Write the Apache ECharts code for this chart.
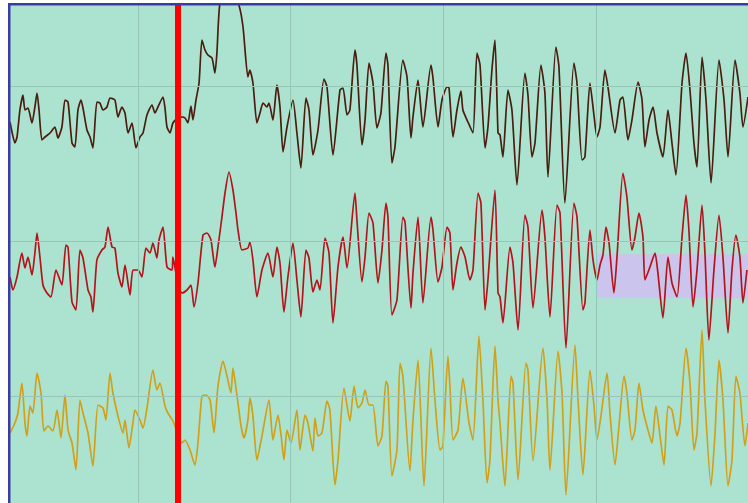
<!DOCTYPE html>
<html>
<head>
<meta charset="utf-8">
<script src="https://cdn.jsdelivr.net/npm/echarts@6/dist/echarts.min.js"></script>
<style>html,body{margin:0;padding:0;background:#fff;}#c{width:748px;height:503px;}</style>
</head>
<body>
<div id="c"></div>
<script>
// Samples: [time in ms, amplitude in µV]
const ch1Samples = [[162,-36],[175,-46],[194,-57],[208,-51],[227,-24],[247,-9],[260,-24],[280,-22],[306,-37],[325,-21],[339,-7],[352,-24],[371,-54],[391,-51],[424,-47],[456,-41],[476,-52],[502,-41],[522,-14],[542,-16],[568,-57],[587,-61],[607,-24],[627,-14],[640,-22],[666,-44],[686,-51],[705,-62],[731,-16],[751,-17],[771,-24],[797,-21],[817,-12],[849,-14],[869,-31],[895,-21],[915,-27],[935,-47],[961,-37],[987,-62],[1013,-51],[1033,-47],[1059,-29],[1092,-19],[1111,-27],[1131,-21],[1164,-11],[1177,-22],[1190,-41],[1210,-47],[1229,-37],[1262,-32],[1288,-31],[1308,-32],[1327,-37],[1347,-20],[1360,-34],[1380,-14],[1400,3],[1419,46],[1439,36],[1458,31],[1485,28],[1504,13],[1517,33],[1537,83],[1596,106],[1661,81],[1688,59],[1720,9],[1733,16],[1753,3],[1779,-37],[1799,-27],[1819,-17],[1845,-21],[1858,-17],[1884,-34],[1910,1],[1930,-21],[1950,-66],[1976,-41],[2015,-14],[2041,-47],[2067,-82],[2100,-12],[2120,-24],[2146,-69],[2179,-44],[2218,7],[2238,-1],[2277,-69],[2323,-4],[2343,-2],[2369,-29],[2388,-24],[2421,36],[2434,21],[2467,-59],[2487,-34],[2513,23],[2539,3],[2565,-42],[2591,-27],[2624,33],[2637,21],[2663,-77],[2683,-61],[2735,26],[2762,9],[2788,-52],[2801,-31],[2834,6],[2866,-41],[2919,21],[2932,8],[2965,-41],[2991,-14],[3024,-1],[3037,-2],[3063,-51],[3089,-24],[3115,-5],[3128,-24],[3161,-36],[3194,-47],[3220,33],[3240,21],[3273,-62],[3292,-41],[3318,16],[3338,46],[3358,-47],[3371,-49],[3390,-71],[3423,-4],[3449,-24],[3482,-99],[3534,13],[3554,-9],[3580,-71],[3600,-57],[3639,21],[3665,-7],[3685,-91],[3737,39],[3757,19],[3796,-117],[3855,23],[3875,3],[3908,-74],[3927,-71],[3960,3],[3986,-29],[4006,-51],[4026,-41],[4058,16],[4078,-1],[4124,-47],[4157,-14],[4176,-11],[4209,-54],[4235,-34],[4275,4],[4301,-14],[4320,-61],[4347,-34],[4373,-21],[4399,-47],[4438,-71],[4471,-24],[4497,-57],[4523,-89],[4563,3],[4589,33],[4615,-4],[4641,-57],[4661,-81],[4694,29],[4720,-14],[4753,-97],[4805,26],[4838,-14],[4864,-71],[4910,26],[4942,-7],[4962,-41],[4995,-11]];

const ch2Samples = [[162,-36],[181,-49],[208,-36],[240,-12],[260,-27],[280,-16],[306,-34],[325,-12],[339,8],[358,-16],[378,-44],[404,-52],[430,-56],[463,-29],[502,-44],[528,-4],[542,-6],[568,-61],[594,-69],[620,-9],[640,-17],[673,-49],[692,-56],[705,-71],[731,-19],[764,-9],[784,-6],[804,14],[830,-6],[849,-7],[869,-32],[895,-46],[915,-24],[948,-54],[967,-29],[1000,-29],[1026,-36],[1052,-7],[1079,-12],[1098,-2],[1124,-17],[1138,1],[1164,14],[1190,-26],[1223,-29],[1229,-16],[1262,-44],[1288,-52],[1321,-49],[1347,-44],[1367,-66],[1393,-42],[1426,6],[1452,8],[1478,1],[1504,-26],[1524,-6],[1550,24],[1570,48],[1596,69],[1622,51],[1642,28],[1655,11],[1681,-9],[1720,-7],[1733,-1],[1753,-19],[1779,-56],[1812,-29],[1851,-12],[1884,-36],[1910,-6],[1930,-22],[1956,-71],[1982,-36],[2015,-2],[2041,-39],[2067,-76],[2100,-9],[2120,-17],[2146,-51],[2172,-39],[2192,-49],[2225,3],[2251,-12],[2277,-82],[2310,-26],[2343,4],[2369,-27],[2421,48],[2434,21],[2467,-41],[2487,-16],[2513,28],[2539,18],[2572,-42],[2598,-9],[2624,38],[2637,24],[2663,-74],[2696,-59],[2735,24],[2749,19],[2788,-67],[2801,-32],[2834,24],[2866,-62],[2919,24],[2932,11],[2965,-41],[2991,-26],[3024,14],[3043,8],[3063,-49],[3089,-22],[3115,-6],[3142,-16],[3174,-39],[3194,-29],[3227,48],[3246,38],[3273,-69],[3292,-39],[3338,51],[3358,-52],[3371,-56],[3390,-82],[3436,-6],[3456,-22],[3489,-89],[3534,26],[3554,14],[3587,-67],[3646,31],[3665,4],[3698,-76],[3744,36],[3764,28],[3803,-107],[3855,38],[3875,24],[3914,-69],[3927,-62],[3960,11],[3980,-19],[4006,-39],[4026,-24],[4045,-14],[4065,14],[4085,-2],[4117,-52],[4137,-16],[4176,68],[4202,44],[4235,-9],[4255,4],[4281,28],[4307,4],[4320,-39],[4353,-26],[4386,-12],[4405,-32],[4438,-77],[4471,-16],[4497,-42],[4530,-56],[4563,4],[4589,46],[4608,11],[4635,-66],[4661,-29],[4694,36],[4713,-12],[4739,-99],[4772,-29],[4805,26],[4831,-16],[4864,-92],[4890,-29],[4916,6],[4942,-16],[4962,-62],[4988,-29]];

const ch3Samples = [[162,-37],[194,-27],[214,-17],[240,13],[260,-27],[273,-40],[293,-10],[312,-17],[339,23],[365,3],[384,-35],[411,-30],[443,-35],[470,-14],[496,-42],[522,1],[542,-34],[568,-47],[594,-74],[620,-4],[640,-17],[673,-37],[705,-70],[738,-9],[771,-12],[790,-24],[817,23],[836,3],[869,-20],[902,-37],[915,-24],[941,-52],[967,-27],[980,-14],[1013,-24],[1033,-32],[1059,-12],[1098,26],[1124,6],[1144,13],[1177,-10],[1196,-17],[1229,-25],[1262,-39],[1288,-47],[1308,-44],[1341,-54],[1373,-69],[1393,-47],[1419,0],[1445,1],[1472,-4],[1498,-37],[1524,10],[1557,35],[1583,20],[1609,3],[1622,28],[1648,1],[1675,-30],[1694,-42],[1720,-24],[1733,-2],[1753,-20],[1779,-64],[1812,-40],[1858,-4],[1884,-44],[1917,-19],[1937,-39],[1956,-64],[1976,-34],[2002,-47],[2041,-14],[2061,-54],[2094,-19],[2113,-27],[2146,-55],[2159,-22],[2179,-40],[2205,-37],[2238,-5],[2257,-14],[2290,-89],[2310,-64],[2349,8],[2388,-25],[2415,10],[2441,-12],[2467,-7],[2487,6],[2513,-9],[2539,-9],[2572,-50],[2598,-40],[2624,15],[2637,10],[2663,-80],[2696,-54],[2716,33],[2735,20],[2781,-75],[2801,-24],[2834,36],[2873,-90],[2919,48],[2945,-4],[2978,-54],[2997,-50],[3030,40],[3043,10],[3063,-44],[3096,-34],[3128,18],[3168,-27],[3194,-44],[3233,60],[3259,-4],[3286,-87],[3305,-64],[3338,50],[3358,-4],[3371,-27],[3403,-90],[3443,20],[3456,13],[3489,-84],[3541,33],[3554,26],[3587,-65],[3652,48],[3679,-4],[3698,-74],[3751,45],[3777,3],[3803,-99],[3862,51],[3882,-4],[3914,-79],[3960,26],[3986,-9],[4006,-44],[4032,-20],[4072,23],[4091,-17],[4124,-69],[4150,-30],[4183,20],[4202,3],[4235,-44],[4255,-34],[4281,13],[4307,-14],[4333,-30],[4366,-47],[4392,-10],[4419,-40],[4445,-69],[4471,-10],[4497,-14],[4530,-40],[4550,-27],[4589,48],[4615,13],[4641,-54],[4661,-37],[4694,66],[4713,-4],[4753,-90],[4779,-37],[4805,36],[4831,-4],[4864,-90],[4890,-64],[4916,20],[4942,3],[4975,-50],[4995,-27]];

const channelNames = ['Ch1', 'Ch2', 'Ch3'];
const channelColors = ['#4a1d0e', '#b3141a', '#d1a01a'];
const gridSeconds = [1, 2, 3, 4];
const markerSecond = 1.262;            // red event marker
const highlightSeconds = [3.999, 5.0]; // lavender band on Ch2
const highlightMicroV = [-13, -57];

// layout
const CH_SPACING = 155;  // µV between channel baselines
const channels = [ch1Samples, ch2Samples, ch3Samples];

const chart = echarts.init(document.getElementById('c'));
const series = channels.map((samples, i) => ({
  name: channelNames[i],
  type: 'line',
  showSymbol: false,
  symbol: 'none',
  clip: true,
  smooth: 0.2,
  lineStyle: { color: channelColors[i], width: 1.7 },
  itemStyle: { color: channelColors[i] },
  data: samples.map(s => [s[0] / 1000, s[1] - i * CH_SPACING]),
  z: 3
}));

// grid lines + band
series.push({
  type: 'line', data: [], z: 1,
  markLine: {
    silent: true, symbol: 'none', label: { show: false },
    lineStyle: { color: '#94c8b4', width: 1, type: 'solid' },
    data: gridSeconds.map(s => ({ xAxis: s })).concat(
      channelNames.map((n, i) => ({ yAxis: -i * CH_SPACING })))
  },
  markArea: {
    silent: true,
    itemStyle: { color: '#cbc4ec' },
    data: [[
      { xAxis: highlightSeconds[0], yAxis: highlightMicroV[0] - CH_SPACING },
      { xAxis: highlightSeconds[1], yAxis: highlightMicroV[1] - CH_SPACING }
    ]]
  }
});
// event marker
series.push({
  type: 'line', data: [], z: 10,
  markLine: {
    silent: true, symbol: 'none', label: { show: false },
    lineStyle: { color: '#ff0000', width: 6, type: 'solid' },
    data: [{ xAxis: markerSecond }]
  }
});

chart.setOption({
  animation: false,
  backgroundColor: '#ffffff',
  grid: { left: 10, right: 0, top: 5, bottom: 0, show: true, backgroundColor: '#ace3d0', borderWidth: 0 },
  xAxis: { type: 'value', min: 0.162, max: 4.995, show: false },
  yAxis: { type: 'value', min: -417, max: 81, show: false },
  series: series,
  graphic: [
    { type: 'rect', shape: { x: 8, y: 3, width: 2.5, height: 500 }, style: { fill: '#3b3ba6' }, z: 100 },
    { type: 'rect', shape: { x: 8, y: 3, width: 740, height: 2.5 }, style: { fill: '#3b3ba6' }, z: 100 }
  ]
});
</script>
</body>
</html>
